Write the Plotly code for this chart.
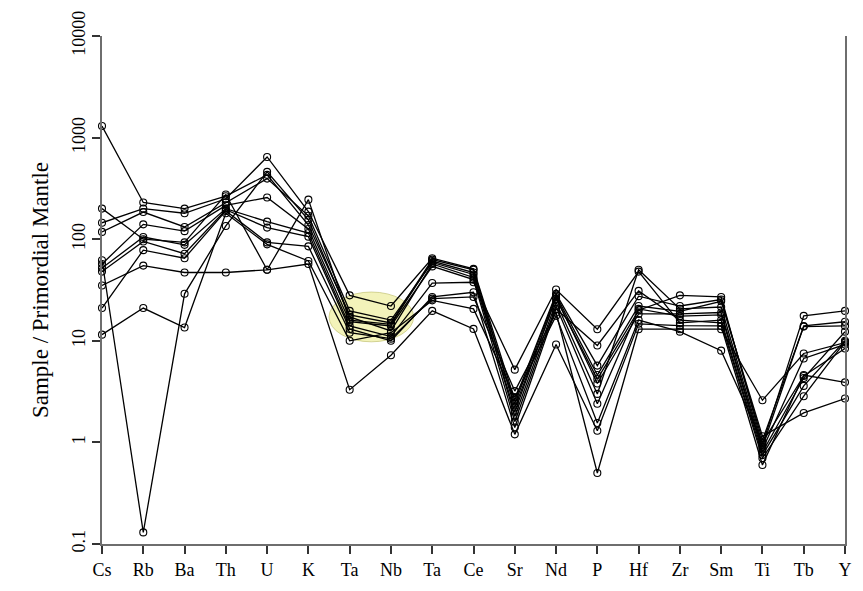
import plotly.graph_objects as go

elements = ["Cs", "Rb", "Ba", "Th", "U", "K", "Ta", "Nb", "Ta", "Ce", "Sr", "Nd",
            "P", "Hf", "Zr", "Sm", "Ti", "Tb", "Y"]

s1 = [1300, 230, 200, 265, 430, 138, 18, 15, 63, 50, 2.2, 26, 4.2, 20, 28, 27, 0.95, 17.6, 19.7]
s2 = [200, 100, 93, 275, 50, 245, 16, 14.5, 61, 47, 1.8, 24, 3.0, 50, 20.6, 21.5, 0.9, 14, 15.4]
s3 = [145, 200, 180, 250, 645, 187, 28, 22, 65, 51, 2.6, 29, 5.7, 27.5, 22, 25.5, 1.05, 13.8, 14]
s4 = [118, 185, 132, 230, 395, 170, 19.7, 16, 59, 45, 2.4, 28, 4.6, 22, 19.5, 24.5, 1.15, 1.95, 2.7]
s5 = [62, 0.13, 29, 135, 460, 155, 17.2, 12.5, 57, 42, 2.0, 27, 3.8, 18.4, 18.4, 19, 0.85, 6.7, 9.2]
s6 = [57, 140, 120, 215, 257, 126, 15.4, 14, 54, 40, 1.6, 22, 2.4, 20.6, 17.5, 18, 0.8, 4.3, 12.3]
s7 = [52, 105, 88, 200, 149, 115, 14, 11, 37, 37.7, 5.2, 32, 13, 48, 15, 16, 0.75, 3.6, 10]
s8 = [48, 95, 72, 195, 130, 106, 13.1, 10, 27, 30, 1.4, 20.6, 9, 31, 16, 15, 0.7, 2.85, 9.8]
s9 = [35, 55, 47, 47, 50, 57, 3.3, 7.2, 19.7, 13.1, 1.2, 9.2, 1.3, 14.7, 14.1, 14, 0.6, 4.6, 3.9]
s10 = [21, 78, 65, 190, 93, 85, 12, 10.5, 26, 27, 3.2, 19, 0.5, 13, 13, 13, 2.6, 7.5, 9.6]
s11 = [11.5, 21, 13.5, 180, 89, 61, 10, 12, 25, 20.6, 2.8, 17.6, 1.55, 16, 12.3, 8, 1.0, 4.5, 8.4]

series = [s1, s2, s3, s4, s5, s6, s7, s8, s9, s10, s11]

y_ticks = [0.1, 1, 10, 100, 1000, 10000]
y_ticktext = ["0.1", "1", "10", "100", "1000", "10000"]

x_pos = list(range(len(elements)))

fig = go.Figure()

# highlight ellipse around Ta-Nb
fig.add_shape(type="circle", xref="x", yref="y domain",
              x0=5.5, x1=7.55, y0=0.398, y1=0.496,
              fillcolor="rgba(235,235,140,0.6)",
              line=dict(color="rgba(185,185,100,0.6)", width=1),
              layer="below")

for s in series:
    fig.add_trace(go.Scatter(
        x=x_pos, y=s, mode="lines+markers",
        line=dict(color="black", width=1.3),
        marker=dict(symbol="circle-open", size=7, color="black",
                    line=dict(width=1.1, color="black")),
        cliponaxis=False, showlegend=False, hoverinfo="skip"))

font_serif = "Liberation Serif, Times New Roman, serif"

fig.update_layout(
    width=863, height=591,
    margin=dict(l=102, r=11, t=35, b=44),
    paper_bgcolor="white", plot_bgcolor="white",
    font=dict(family=font_serif, color="black", size=17),
    xaxis=dict(
        range=[0, 18], tickvals=x_pos, ticktext=elements,
        showgrid=False, zeroline=False, showline=True,
        linecolor="#6e6e6e", linewidth=2,
        ticks="outside", ticklen=8, tickwidth=2, tickcolor="#333",
        tickfont=dict(family=font_serif, size=18, color="black"),
    ),
    yaxis=dict(
        type="log", range=[-1, 4], tickvals=y_ticks, ticktext=y_ticktext,
        showgrid=False, zeroline=False, showline=True, mirror=True,
        linecolor="#6e6e6e", linewidth=2,
        ticks="outside", ticklen=8, tickwidth=2, tickcolor="#333",
        tickangle=-90,
        tickfont=dict(family=font_serif, size=18, color="black"),
        title=dict(text="Sample / Primordial Mantle",
                   font=dict(family=font_serif, size=23, color="black"),
                   standoff=14),
    ),
)

fig.write_html("out.html")
